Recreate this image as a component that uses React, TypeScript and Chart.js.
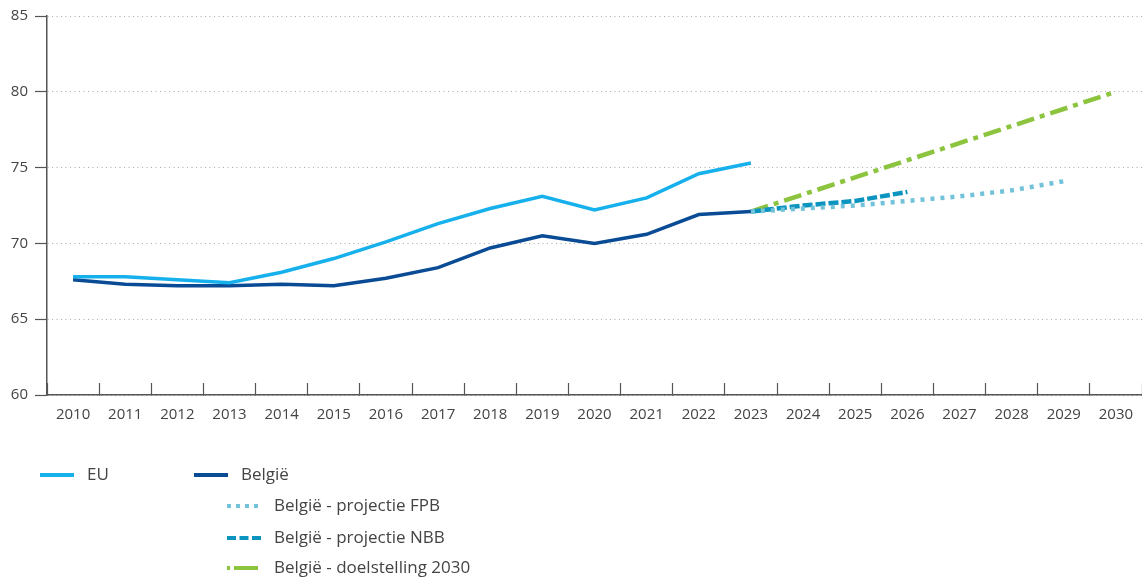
import React, { useEffect, useRef } from "react";
import { Chart, registerables } from "chart.js";

Chart.register(...registerables);

const years = [
  "2010", "2011", "2012", "2013", "2014", "2015", "2016", "2017", "2018", "2019", "2020",
  "2021", "2022", "2023", "2024", "2025", "2026", "2027", "2028", "2029", "2030",
];

const euValues = [67.8, 67.8, 67.6, 67.4, 68.1, 69.0, 70.1, 71.3, 72.3, 73.1, 72.2, 73.0, 74.6, 75.3, null, null, null, null, null, null, null];
const belgieValues = [67.6, 67.3, 67.2, 67.2, 67.3, 67.2, 67.7, 68.4, 69.7, 70.5, 70.0, 70.6, 71.9, 72.1, null, null, null, null, null, null, null];
const fpbValues = [null, null, null, null, null, null, null, null, null, null, null, null, null, 72.1, 72.3, 72.5, 72.8, 73.1, 73.5, 74.1, null];
const nbbValues = [null, null, null, null, null, null, null, null, null, null, null, null, null, 72.1, 72.5, 72.8, 73.4, null, null, null, null];
const targetValues = [null, null, null, null, null, null, null, null, null, null, null, null, null, 72.1, null, null, null, null, null, null, 80.0];

const seriesNames = ["EU", "België", "België - projectie FPB", "België - projectie NBB", "België - doelstelling 2030"];
const yTicks = [60, 65, 70, 75, 80, 85];

const COLORS = {
  eu: "#16b1ec",
  be: "#0a4b95",
  fpb: "#72c2da",
  nbb: "#0b94bf",
  target: "#8cc43f",
};

const FONT = "'Open Sans', 'Noto Sans', sans-serif";
const TEXT = "#444";

const legendPlugin = {
  id: "customLegend",
  afterDraw(chart: any) {
    const { ctx, chartArea } = chart;
    const ds = chart.data.datasets;
    const left = chartArea.left;
    const base = chartArea.bottom;
    const items = [
      { i: 0, lx: left - 7, ty: base + 80 },
      { i: 1, lx: left + 147, ty: base + 80 },
      { i: 2, lx: left + 180, ty: base + 111 },
      { i: 3, lx: left + 180, ty: base + 143 },
      { i: 4, lx: left + 180, ty: base + 173 },
    ];
    ctx.save();
    ctx.font = `17px ${FONT}`;
    ctx.textBaseline = "middle";
    ctx.textAlign = "left";
    for (const it of items) {
      const d = ds[it.i];
      ctx.beginPath();
      ctx.setLineDash(d.legendDash || []);
      ctx.lineWidth = 4;
      ctx.strokeStyle = d.borderColor;
      ctx.moveTo(it.lx, it.ty);
      ctx.lineTo(it.lx + 34, it.ty);
      ctx.stroke();
      ctx.setLineDash([]);
      ctx.fillStyle = TEXT;
      ctx.fillText(d.label, it.lx + 47, it.ty);
    }
    ctx.restore();
  },
};

export default function App() {
  const ref = useRef<HTMLCanvasElement | null>(null);

  useEffect(() => {
    document.body.style.margin = "0";
    const line = (label: string, data: any[], color: string, dash: number[], legendDash: number[], extra: any = {}) => ({
      label,
      data,
      borderColor: color,
      backgroundColor: color,
      borderWidth: 3.5,
      borderDash: dash,
      legendDash,
      pointRadius: 0,
      tension: 0,
      fill: false,
      ...extra,
    });
    const chart = new Chart(ref.current as HTMLCanvasElement, {
      type: "line",
      data: {
        labels: years,
        datasets: [
          line(seriesNames[0], euValues, COLORS.eu, [], []),
          line(seriesNames[1], belgieValues, COLORS.be, [], []),
          line(seriesNames[2], fpbValues, COLORS.fpb, [4, 6], [4, 5], { borderWidth: 4.5 }),
          line(seriesNames[3], nbbValues, COLORS.nbb, [10, 3], [9, 3.5], { borderWidth: 4.5 }),
          line(seriesNames[4], targetValues, COLORS.target, [18, 6, 5, 6], [3, 4, 24, 3], { borderWidth: 4.5, spanGaps: true }),
        ] as any,
      },
      options: {
        animation: false,
        responsive: true,
        maintainAspectRatio: false,
        layout: { padding: { top: 16, right: 0, bottom: 146, left: 0 } },
        plugins: {
          legend: { display: false },
          tooltip: { enabled: false },
        },
        scales: {
          x: {
            offset: true,
            afterFit: (s: any) => {
              s.height = 40;
              s.paddingLeft = 0;
              s.paddingRight = 0;
            },
            grid: {
              display: true,
              offset: true,
              drawOnChartArea: false,
              drawTicks: true,
              tickLength: -12,
              tickColor: "#555",
              tickWidth: 1.2,
              color: "#555",
            },
            border: { display: true, color: "#555", width: 1.5 },
            ticks: {
              color: TEXT,
              font: { family: FONT, size: 15 },
              padding: 23,
              maxRotation: 0,
              autoSkip: false,
            },
          },
          y: {
            min: 60,
            max: 85,
            afterFit: (s: any) => {
              s.width = 47;
            },
            afterBuildTicks: (s: any) => {
              s.ticks = yTicks.map((v) => ({ value: v }));
            },
            grid: {
              display: true,
              drawOnChartArea: true,
              drawTicks: true,
              tickLength: 12,
              color: "#aaa",
              lineWidth: 1,
              tickColor: "#555",
              tickWidth: 1.2,
              tickBorderDash: [],
            },
            border: { display: true, color: "#555", width: 1.5, dash: [1, 3.5] },
            ticks: {
              color: TEXT,
              font: { family: FONT, size: 15 },
              padding: 7,
            },
          },
        },
      },
      plugins: [legendPlugin],
    });
    return () => chart.destroy();
  }, []);

  return (
    <div style={{ position: "fixed", left: 0, top: 0, width: 1142, height: 581, background: "#fff" }}>
      <canvas ref={ref} />
    </div>
  );
}
